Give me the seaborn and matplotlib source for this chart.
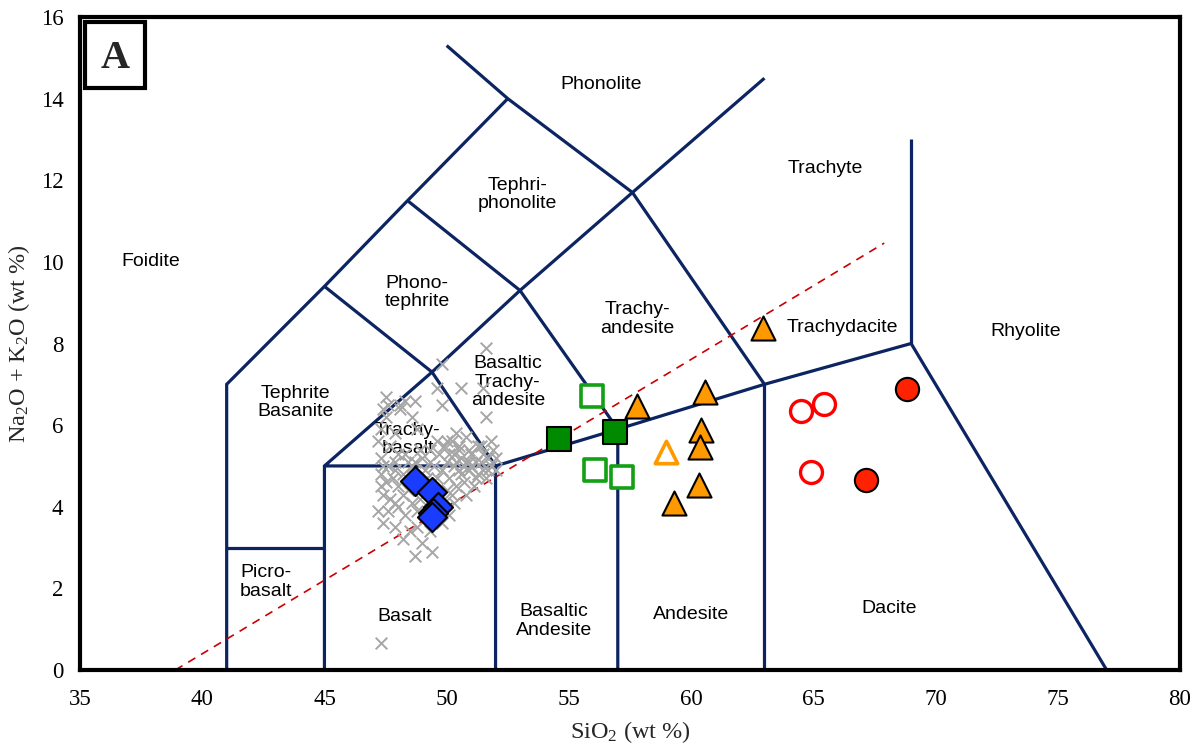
import matplotlib
matplotlib.use("Agg")
import matplotlib.pyplot as plt
from matplotlib.patches import Rectangle
import seaborn as sns

# ---------------- data ----------------
# TAS classification boundaries (SiO2, Na2O+K2O)
tas_lines = [
    [(41, 0), (41, 7), (45, 9.4), (48.4, 11.5), (52.5, 14)],
    [(50, 15.3), (52.5, 14), (57.6, 11.7), (63, 14.5)],
    [(57.6, 11.7), (63, 7)],
    [(48.4, 11.5), (53, 9.3), (57.6, 11.7)],
    [(45, 9.4), (49.4, 7.3), (53, 9.3)],
    [(45, 0), (45, 5), (49.4, 7.3), (52, 5), (45, 5)],
    [(41, 3), (45, 3)],
    [(52, 0), (52, 5), (57, 5.9), (63, 7), (69, 8), (77, 0)],
    [(53, 9.3), (57, 5.9), (57, 0)],
    [(63, 0), (63, 7)],
    [(69, 8), (69, 13)],
]
alk_line_x = [38.9, 67.9]
alk_line_y = [0.0, 10.46]

region_names = ["Phonolite", "Tephri-\nphonolite", "Trachyte", "Foidite", "Phono-\ntephrite",
                "Trachy-\nandesite", "Trachydacite", "Rhyolite", "Tephrite\nBasanite",
                "Basaltic\nTrachy-\nandesite", "Trachy-\nbasalt", "Picro-\nbasalt", "Basalt",
                "Basaltic\nAndesite", "Andesite", "Dacite"]
region_x = [56.3, 52.9, 65.5, 37.9, 48.8, 57.8, 66.2, 73.7, 43.8, 52.5, 48.4, 42.6, 48.3, 54.4, 60.0, 68.1]
region_y = [14.35, 11.65, 12.3, 10.0, 9.25, 8.6, 8.4, 8.3, 6.55, 7.05, 5.65, 2.15, 1.3, 1.2, 1.35, 1.5]

# gray crosses (literature data)
gray_x = [51.6, 49.8, 50.6, 51.5, 49.6, 49.8, 51.6, 50.0, 50.5, 51.8,
          47.5, 47.6, 47.4, 48.1, 48.3, 48.7, 48.1, 47.3, 47.9, 48.8, 47.2, 47.5, 48.6,
          47.3, 47.6, 47.9, 48.3, 48.6, 49.0, 49.3, 49.7, 50.0, 50.3, 50.6, 50.9, 51.2, 51.5,
          51.8, 50.2, 50.8, 51.0, 50.5, 51.3, 49.8, 50.1, 50.7, 51.1, 51.6, 52.0, 51.9, 49.5, 49.1,
          47.3, 47.5, 47.8, 48.0, 47.4, 47.7, 48.2, 48.5, 47.2, 47.6, 48.0, 48.3, 47.4, 47.9,
          48.5, 48.8, 48.2, 48.9,
          48.2, 48.8, 49.0, 49.4, 48.7, 49.3, 49.8, 50.1, 50.3,
          50.0, 50.4, 49.9, 50.2, 50.8, 47.9, 48.4, 50.9, 51.4, 50.4, 49.6,
          50.3, 50.7, 51.0, 51.4, 51.7, 50.5, 50.9, 51.3, 50.1, 49.9, 51.7, 52.0, 50.6, 51.2,
          49.6, 49.0, 48.7, 48.0, 47.7, 47.4, 48.4, 47.9, 48.6, 47.3, 50.8, 51.5, 50.4, 49.3,
          48.9, 49.2,
          47.3]
gray_y = [7.9, 7.5, 6.9, 6.9, 6.9, 6.5, 6.2, 5.6, 5.5, 5.6,
          6.7, 6.5, 6.4, 6.4, 6.6, 6.6, 6.5, 5.9, 5.8, 5.9, 5.6, 6.2, 6.2,
          5.2, 5.0, 5.1, 5.3, 5.0, 5.2, 5.4, 5.3, 5.1, 5.3, 5.2, 5.4, 5.1, 5.3,
          5.0, 5.6, 5.7, 5.0, 4.9, 4.8, 4.9, 4.7, 4.6, 4.5, 4.7, 4.9, 5.4, 5.0, 4.9,
          4.8, 4.6, 4.7, 4.5, 4.3, 4.2, 4.3, 4.6, 3.9, 3.9, 4.0, 3.8, 3.6, 3.5,
          3.4, 3.9, 4.8, 4.2,
          3.2, 3.5, 3.1, 2.9, 2.8, 3.4, 3.6, 3.8, 4.1,
          4.4, 4.5, 4.2, 4.3, 4.3, 4.9, 5.1, 5.1, 5.5, 5.8, 5.6,
          5.0, 5.0, 5.3, 5.1, 5.2, 5.4, 4.9, 5.5, 5.3, 5.5, 4.9, 5.2, 4.8, 4.7,
          4.7, 4.6, 5.1, 5.3, 5.5, 5.0, 4.4, 4.1, 4.1, 4.5, 5.1, 4.9, 5.1, 5.1,
          5.4, 4.7,
          0.65]

blue_x = [48.7, 49.4, 49.65, 49.45, 49.4]
blue_y = [4.62, 4.35, 4.0, 3.85, 3.75]

green_fill_x = [54.6, 56.9]
green_fill_y = [5.66, 5.83]
green_open_x = [55.95, 56.07, 57.18]
green_open_y = [6.72, 4.9, 4.73]

orange_fill_x = [57.8, 60.57, 60.41, 60.37, 60.33, 59.3, 62.95]
orange_fill_y = [6.47, 6.81, 5.88, 5.47, 4.53, 4.09, 8.38]
orange_open_x = [58.98]
orange_open_y = [5.34]

red_open_x = [64.5, 65.44, 64.91]
red_open_y = [6.35, 6.52, 4.85]
red_fill_x = [68.84, 67.16]
red_fill_y = [6.89, 4.66]

x_ticks = [35, 40, 45, 50, 55, 60, 65, 70, 75, 80]
y_ticks = [0, 2, 4, 6, 8, 10, 12, 14, 16]

# ---------------- plot ----------------
sns.set_theme(style="white")
plt.rcParams["font.family"] = ["Liberation Serif", "DejaVu Serif"]
plt.rcParams["mathtext.fontset"] = "custom"
plt.rcParams["mathtext.rm"] = "Liberation Serif"
plt.rcParams["mathtext.it"] = "Liberation Serif:italic"
plt.rcParams["mathtext.bf"] = "Liberation Serif:bold"

fig = plt.figure(figsize=(12.03, 7.48), dpi=100)
ax = fig.add_axes([80 / 1203, 1 - 670 / 748, 1100 / 1203, 653 / 748])

navy = "#0c2461"
for seg in tas_lines:
    xs = [p[0] for p in seg]
    ys = [p[1] for p in seg]
    ax.plot(xs, ys, color=navy, lw=2.3, solid_capstyle="butt", solid_joinstyle="miter", zorder=2)

sns.lineplot(x=alk_line_x, y=alk_line_y, ax=ax, color="#cc0000", lw=1.2,
             linestyle=(0, (5, 4)), zorder=2)

for name, tx, ty in zip(region_names, region_x, region_y):
    ax.text(tx, ty, name, ha="center", va="center", fontsize=14,
            family=["Liberation Sans", "DejaVu Sans"], color="black", zorder=3,
            linespacing=1.12)

sns.scatterplot(x=gray_x, y=gray_y, ax=ax, marker="x", color="#a6a6a6", s=70,
                linewidth=1.4, zorder=4)

sns.scatterplot(x=blue_x, y=blue_y, ax=ax, marker="D", color="#1a3cff", edgecolor="black",
                s=220, linewidth=1.5, zorder=5)

sns.scatterplot(x=green_fill_x, y=green_fill_y, ax=ax, marker="s", color="#008a00",
                edgecolor="black", s=300, linewidth=1.5, zorder=5)
sns.scatterplot(x=green_open_x, y=green_open_y, ax=ax, marker="s", facecolor="white",
                edgecolor="#14a014", s=270, linewidth=2.6, zorder=5)

sns.scatterplot(x=orange_fill_x, y=orange_fill_y, ax=ax, marker="^", color="#ff9900",
                edgecolor="black", s=300, linewidth=1.5, zorder=5)
sns.scatterplot(x=orange_open_x, y=orange_open_y, ax=ax, marker="^", facecolor="white",
                edgecolor="#ff9900", s=260, linewidth=2.6, zorder=5)

sns.scatterplot(x=red_open_x, y=red_open_y, ax=ax, marker="o", facecolor="white",
                edgecolor="#ff0000", s=250, linewidth=2.4, zorder=5)
sns.scatterplot(x=red_fill_x, y=red_fill_y, ax=ax, marker="o", color="#ff2200",
                edgecolor="black", s=280, linewidth=1.5, zorder=5)

ax.set_xlim(35, 80)
ax.set_ylim(0, 16)
ax.set_xticks(x_ticks)
ax.set_yticks(y_ticks)
ax.tick_params(axis="both", labelsize=16.5, length=0, pad=12, colors="black")
ax.tick_params(axis="x", pad=14)
ax.set_xlabel("SiO$_2$ (wt %)", fontsize=17.5, labelpad=6)
ax.set_ylabel("Na$_2$O + K$_2$O (wt %)", fontsize=17.5, labelpad=6)

for sp in ax.spines.values():
    sp.set_color("black")
    sp.set_linewidth(3)
ax.grid(False)

ax.add_patch(Rectangle((5 / 1100, 1 - 71 / 653), 60 / 1100, 66 / 653, transform=ax.transAxes,
                       fill=True, facecolor="white", edgecolor="black", lw=3, zorder=6))
ax.text(35 / 1100, 1 - 41 / 653, "A", transform=ax.transAxes, ha="center", va="center",
        fontsize=29, fontweight="bold", zorder=7)

fig.savefig("out.png", dpi=100)
